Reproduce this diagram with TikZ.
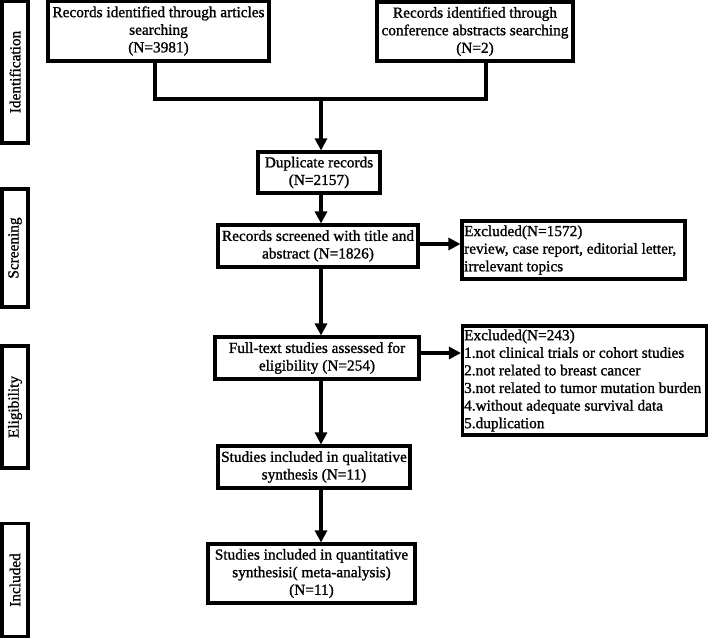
\documentclass[tikz,border=0pt]{standalone}
\usepackage{fontspec}
\setmainfont{Liberation Serif}[FakeBold=1.2]
\usetikzlibrary{arrows.meta}
\begin{document}
\begin{tikzpicture}[x=1pt,y=-1pt,
  txt/.style={font=\fontsize{15.3}{17.6}\selectfont},
  box/.style={draw, line width=3.1pt, inner sep=0pt, align=center, txt},
  phase/.style={draw, line width=3.1pt, inner sep=0pt, rotate=90, txt},
  extxt/.style={anchor=west, inner sep=0pt, align=left, txt},
  ln/.style={line width=3.4pt},
  arr/.style={line width=3.4pt, -{Triangle[length=12pt,width=12pt]}}]
\useasboundingbox (0,0) rectangle (708,638);

% phase labels
\node[phase, minimum width=142, minimum height=26] (pid) at (15,72) {Identification};
\node[phase, minimum width=118, minimum height=26] (psc) at (15,248) {Screening};
\node[phase, minimum width=122, minimum height=26] (pel) at (15,407) {Eligibility};
\node[phase, minimum width=113, minimum height=26] (pin) at (15,580) {Included};

% main boxes
\node[box, minimum width=221, minimum height=60] (tl) at (158.5,31) {Records identified through articles\\searching\\(N=3981)};
\node[box, minimum width=196, minimum height=59] (tr) at (475,31.5) {Records identified through\\conference abstracts searching\\(N=2)};
\node[box, minimum width=122, minimum height=41] (dup) at (319,172.5) {Duplicate records\\(N=2157)};
\node[box, minimum width=200, minimum height=42] (scr) at (318,246) {Records screened with title and\\abstract (N=1826)};
\node[box, minimum width=204, minimum height=42] (full) at (317,358) {Full-text studies assessed for\\eligibility (N=254)};
\node[box, minimum width=192, minimum height=42] (qual) at (314,467) {Studies included in qualitative\\synthesis (N=11)};
\node[box, minimum width=207, minimum height=59] (quant) at (311.5,573.5) {Studies included in quantitative\\synthesisi( meta-analysis)\\(N=11)};

% exclusion boxes
\node[box, minimum width=223, minimum height=58] (ex1) at (573.5,250) {};
\node[extxt] (ex1t) at ([xshift=3.5pt]ex1.west) {Excluded(N=1572)\\review, case report, editorial letter,\\irrelevant topics};
\node[box, minimum width=244, minimum height=109] (ex2) at (584.5,380.5) {};
\node[extxt] (ex2t) at ([xshift=3pt]ex2.west) {Excluded(N=243)\\1.not clinical trials or cohort studies\\2.not related to breast cancer\\3.not related to tumor mutation burden\\4.without adequate survival data\\5.duplication};

% connectors
\coordinate (jl) at (155,99);
\coordinate (jr) at (486,99);
\coordinate (jm) at (321,99);
\draw[ln] (tl.south -| jl) -- (jl) -- (jr) -- (tr.south -| jr);
\draw[arr] (jm) -- (dup.north -| jm);
\draw[arr] (dup.south -| jm) -- (scr.north -| jm);
\draw[arr] (scr.south -| jm) -- (full.north -| jm);
\draw[arr] (full.south -| jm) -- (qual.north -| jm);
\draw[arr] (qual.south -| jm) -- (quant.north -| jm);
\draw[arr] ([yshift=2pt]scr.east) -- ([yshift=2pt]scr.east -| ex1.west);
\draw[arr] ([yshift=5pt]full.east) -- ([yshift=5pt]full.east -| ex2.west);
\end{tikzpicture}
\end{document}
